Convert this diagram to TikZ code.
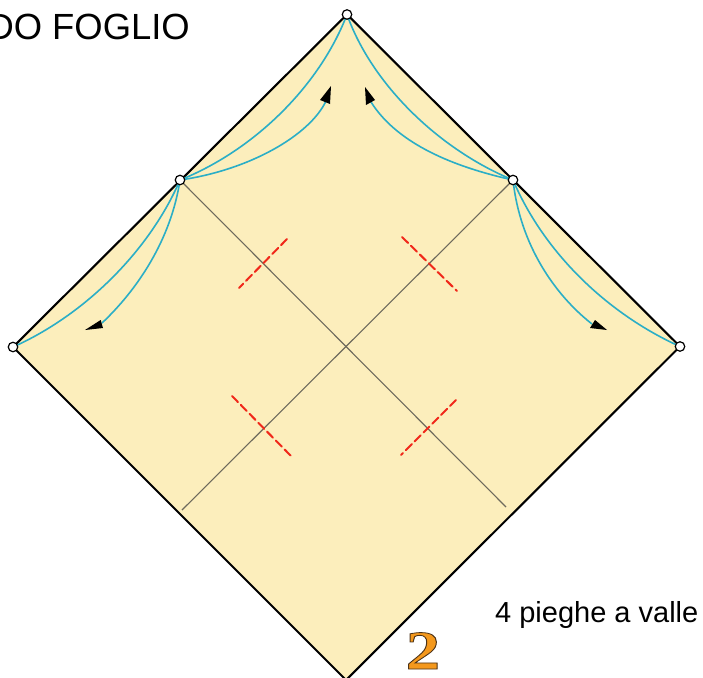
\documentclass[tikz,border=0pt]{standalone}
\usepackage{fontspec}
\setmainfont{Liberation Sans}
\newfontfamily\numfont{Liberation Serif}
\definecolor{paper}{HTML}{FCEEBC}
\definecolor{foldblue}{HTML}{2BAEC6}
\definecolor{foldred}{HTML}{F0281A}
\definecolor{creasegray}{HTML}{6E6A5C}
\definecolor{numfill}{HTML}{F4981C}
\tikzset{
  x=1pt,y=-1pt,
  sheet/.style={fill=paper,draw=black,line width=2.1pt,line join=miter},
  crease/.style={draw=creasegray,line width=1.1pt},
  valley/.style={draw=foldred,line width=2pt,dash pattern=on 8.5pt off 4pt,line cap=round},
  bluefold/.style={draw=foldblue,line width=1.6pt},
  tipfill/.style={fill=black,draw=none},
  pin/.style={circle,draw=black,fill=white,line width=1.2pt,minimum size=9.5pt,inner sep=0pt},
  caption/.style={inner sep=0pt,text=black}
}
\begin{document}
\begin{tikzpicture}
\useasboundingbox (0,0) rectangle (703,677);
\clip (0,0) rectangle (703,677);
\coordinate (T) at (347,14.5);
\coordinate (L) at (13,347);
\coordinate (R) at (680,346.5);
\coordinate (B) at (346,680);
\coordinate (ML) at (180,180);
\coordinate (MR) at (513,180);
\coordinate (CA) at (506,507);
\coordinate (CB) at (182,510);
\path[sheet] (T) -- (R) -- (B) -- (L) -- cycle;
\draw[crease] (ML) -- (CA);
\draw[crease] (MR) -- (CB);
\draw[valley] (287,239) -- (239,288);
\draw[valley] (402,237) -- (457,291);
\draw[valley] (232,396) -- (292,457);
\draw[valley] (456,400) -- (401,455);
\draw[bluefold] (ML) .. controls (255,150) and (320,85) .. (T);
\draw[bluefold] (ML) .. controls (250,170) and (310,135) .. (326,101);
\draw[bluefold] (MR) .. controls (440,150) and (372,85) .. (T);
\draw[bluefold] (MR) .. controls (445,165) and (395,140) .. (371,102);
\draw[bluefold] (ML) .. controls (150,250) and (85,315) .. (L);
\draw[bluefold] (ML) .. controls (171,240) and (137,290) .. (102,323);
\draw[bluefold] (MR) .. controls (545,255) and (610,315) .. (R);
\draw[bluefold] (MR) .. controls (520,245) and (555,295) .. (592,324);
\fill[tipfill] (331,86) -- (320,100) -- (330,104) -- cycle;
\fill[tipfill] (365,87) -- (366,105) -- (375,100) -- cycle;
\fill[tipfill] (85,330) -- (100.7,320) -- (103,328) -- cycle;
\fill[tipfill] (607,330) -- (590,328) -- (595,320) -- cycle;
\node[pin] (pT) at (T) {};
\node[pin] (pL) at (L) {};
\node[pin] (pR) at (R) {};
\node[pin] (pML) at (ML) {};
\node[pin] (pMR) at (MR) {};
\node[caption,anchor=base east,font=\fontsize{36.4}{36.4}\selectfont] (title) at (190,40) {DO FOGLIO};
\node[caption,anchor=base west,font=\fontsize{29}{29}\selectfont] (note) at (495,622) {4 pieghe a valle};
\node[inner sep=0pt,anchor=base,xscale=1.25,text=numfill,font=\numfont\bfseries\fontsize{55}{55}\selectfont] (num) at (423,669) {\special{pdf:code 2 Tr 0.8 w 0.3 0.2 0.1 RG}2\special{pdf:code 0 Tr}};
\end{tikzpicture}
\end{document}
